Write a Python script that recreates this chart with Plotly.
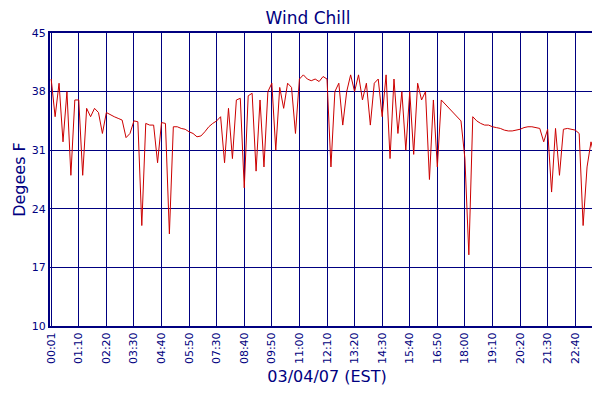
import plotly.graph_objects as go

tick_labels = ["00:01","01:10","02:20","03:30","04:40","05:50","07:30","08:40","09:50","11:00",
               "12:10","13:20","14:30","15:40","16:50","18:00","19:10","20:20","21:30","22:40","23:50"]
wind_chill = [
 39.5,35,39,32,38,28,37,
 37,28,36,35,36,35.5,33,
 35.5,35.2,35,34.8,34.6,32.5,33,
 34.5,34.4,22,34.2,34,34,29.5,
 34.3,34.2,21,33.8,33.8,33.6,33.5,
 33.2,33,32.6,32.7,33.2,33.8,34.2,
 34.5,35,29.5,36,30,37,37.2,
 26.5,37.5,37.8,28.5,37,29,38,
 39,31,38.5,36,39,38.5,33,
 39.5,40,39.5,39.3,39.5,39.2,39.8,
 39.5,29,38,39,34,38,40,
 38,40,37,39,34,39,39.5,
 35,40,30,39.5,33,38,31,
 38,30.5,39,37,38,27.5,37,
 29,37,36.5,36,35.5,35,34.5,
 30,18.5,35,34.5,34.2,34,34,
 33.8,33.7,33.6,33.4,33.3,33.3,33.4,
 33.5,33.7,33.8,33.8,33.7,33.6,32,
 33.5,26,33.6,28,33.5,33.6,33.5,
 33.4,33,22,29,32,30,32.5,
 32]
y_ticks = [10,17,24,31,38,45]

idx = list(range(len(wind_chill)))
navy = "#000080"
fig = go.Figure(go.Scatter(x=idx, y=wind_chill, mode="lines", line=dict(color="#cc0000", width=1),
                           name="Wind Chill"))
fig.update_layout(
    width=600, height=400, paper_bgcolor="white", plot_bgcolor="white",
    margin=dict(l=42, r=4, t=25, b=82, autoexpand=False),
    font=dict(family="DejaVu Sans", color=navy, size=11),
    title=dict(text="Wind Chill", x=0.5, xanchor="center", y=0.99, yanchor="top", font=dict(size=17, color=navy)),
    showlegend=True,
    legend=dict(orientation="h", x=0.5, xanchor="center", y=-0.24, yanchor="top", font=dict(size=12)),
)
fig.update_xaxes(range=[-0.3, len(wind_chill)-0.7], tickmode="array", tickvals=[i*7 for i in range(len(tick_labels))],
                 ticktext=tick_labels, tickangle=-90, showgrid=True, gridcolor=navy, gridwidth=1,
                 showline=True, linecolor=navy, mirror=True, linewidth=2, zeroline=False, automargin=False,
                 title=dict(text="03/04/07 (EST)", font=dict(size=16), standoff=8), tickfont=dict(size=11))
fig.update_yaxes(range=[10,45], tickvals=y_ticks, showgrid=True, gridcolor=navy, gridwidth=1,
                 showline=True, linecolor=navy, mirror=True, linewidth=2, zeroline=False, automargin=False,
                 title=dict(text="Degees F", font=dict(size=16), standoff=2), tickfont=dict(size=11))
fig.write_html("out.html")
